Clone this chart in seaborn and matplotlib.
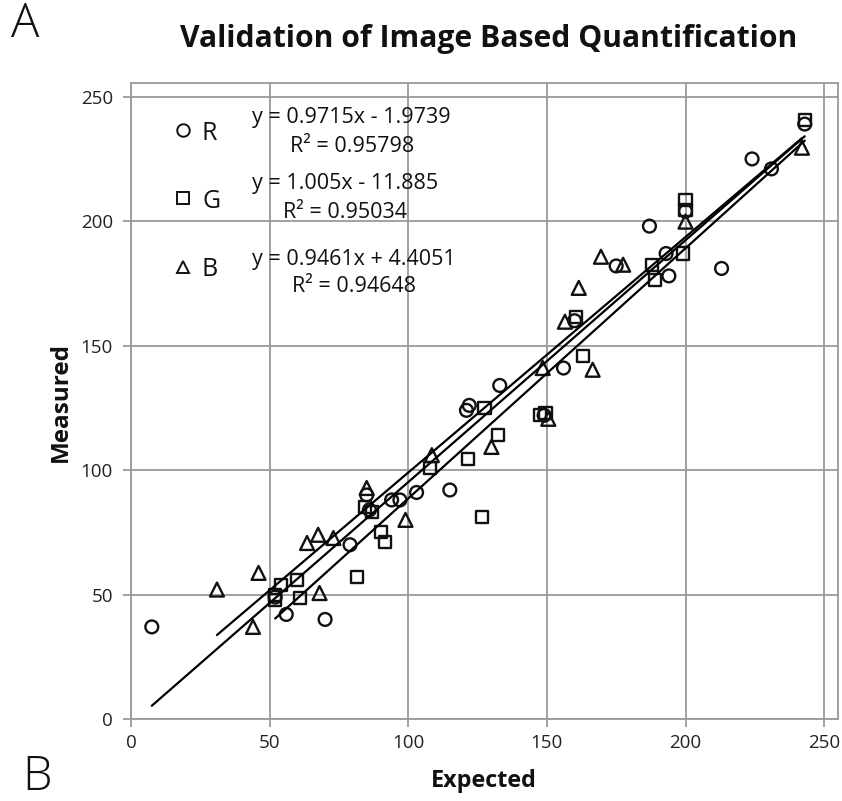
import numpy as np
import pandas as pd
import matplotlib
matplotlib.use("Agg")
import matplotlib.pyplot as plt
import seaborn as sns
from matplotlib.lines import Line2D

# ---- data ----
r_expected = [7.5, 52, 56, 70, 79, 85, 86, 94, 97, 103, 115, 121, 122, 133, 149, 156,
              160, 175, 187, 193, 194, 200, 213, 224, 231, 243]
r_measured = [37, 49, 42, 40, 70, 90, 84, 88, 88, 91, 92, 124, 126, 134, 122, 141,
              160, 182, 198, 187, 178, 204, 181, 225, 221, 239]

g_expected = [52, 52, 54, 60, 61, 81.5, 84.5, 87, 90, 91.5, 108, 121.5, 126.5, 127.5,
              132.5, 147.5, 149.5, 160.5, 163, 188, 189, 199, 200, 200, 243]
g_measured = [50, 48, 54, 56, 48.6, 57, 85, 83, 75, 71, 101, 104.5, 81, 125,
              114, 122, 123, 161.5, 146, 182.5, 176.5, 187, 204.5, 208.5, 240.5]

b_expected = [31, 44, 46, 63.5, 67.5, 68, 73, 85, 99, 108.5, 130, 148.5, 150.5, 156.5,
              161.5, 166.5, 169.5, 177.5, 200, 242]
b_measured = [52, 37, 58.7, 70.7, 74, 50.6, 72.7, 92.8, 80, 106, 109.3, 141, 120.6, 159.6,
              173.2, 140.3, 185.7, 182.5, 199.8, 229.5]

channels = ["R", "G", "B"]
slopes = [0.9715, 1.005, 0.9461]
intercepts = [-1.9739, -11.885, 4.4051]
r_squared = ["0.95798", "0.95034", "0.94648"]
eq_text = ["y = 0.9715x - 1.9739", "y = 1.005x - 11.885", "y = 0.9461x + 4.4051"]

ticks = [0, 50, 100, 150, 200, 250]

df = pd.concat([
    pd.DataFrame({"Expected": r_expected, "Measured": r_measured, "ch": "R"}),
    pd.DataFrame({"Expected": g_expected, "Measured": g_measured, "ch": "G"}),
    pd.DataFrame({"Expected": b_expected, "Measured": b_measured, "ch": "B"}),
], ignore_index=True)

# ---- style ----
sns.set_theme(style="white")
plt.rcParams["font.family"] = ["Open Sans", "DejaVu Sans"]

W, H = 842, 801
fig = plt.figure(figsize=(W / 100, H / 100), dpi=100)
ax = fig.add_axes([131 / W, 1 - 719 / H, (838 - 131) / W, (719 - 83) / H])

markers = {"R": "o", "G": "s", "B": "^"}
sizes = {"R": 85, "G": 75, "B": 100}
grid_c = "#9a9a9a"

for ch in channels:
    sub = df[df.ch == ch]
    sns.scatterplot(data=sub, x="Expected", y="Measured", marker=markers[ch],
                    s=sizes[ch], facecolor="none", edgecolor="#111111",
                    linewidth=1.7, ax=ax, zorder=3, legend=False)

for ch, m, b in zip(channels, slopes, intercepts):
    sub = df[df.ch == ch]
    xs = np.array([sub.Expected.min(), sub.Expected.max()])
    ax.plot(xs, m * xs + b, color="black", lw=1.6, zorder=4)

ax.set_xlim(0, 255)
ax.set_ylim(0, 255.5)
ax.set_xticks(ticks)
ax.set_yticks(ticks)
ax.grid(True, color=grid_c, lw=1.3)
ax.set_axisbelow(True)
for s in ax.spines.values():
    s.set_color(grid_c)
    s.set_linewidth(1.3)
ax.tick_params(axis="both", direction="out", length=6, width=1.3, color=grid_c,
               labelsize=13.5, labelcolor="#222222", left=True, bottom=True)
ax.tick_params(axis="y", pad=7)
ax.tick_params(axis="x", pad=5)
ax.set_xlabel("")
ax.set_ylabel("")

def fx(px):
    return px / W

def fy(py):
    return 1 - py / H

# title and labels
fig.text(fx(489), fy(47), "Validation of Image Based Quantification", ha="center",
         va="baseline", fontsize=21.7, fontweight="bold", color="#111111")
fig.text(fx(61), fy(402), "Measured", rotation=90, ha="center", va="center",
         fontsize=17.5, fontweight="bold", color="#111111")
fig.text(fx(484), fy(781), "Expected", ha="center", va="center",
         fontsize=16.8, fontweight="bold", color="#111111")
fig.text(fx(11), fy(25), "A", ha="left", va="center", fontsize=34,
         fontweight="light", color="#111111")
fig.text(fx(22), fy(778), "B", ha="left", va="center", fontsize=34,
         fontweight="light", color="#111111")

# legend with equations
leg_y = [130, 198, 267]
letter_y = [134, 202, 269]
eq1_y = [118, 184, 260]
eq2_x = [290, 283, 292]
eq2_y = [146, 212, 287]
for i, ch in enumerate(channels):
    fig.add_artist(Line2D([fx(183)], [fy(leg_y[i])], marker=markers[ch], markersize=9,
                          markerfacecolor="none", markeredgecolor="#111111",
                          markeredgewidth=1.4, linestyle="none",
                          transform=fig.transFigure))
    fig.text(fx(202), fy(letter_y[i]), ch, ha="left", va="center", fontsize=18,
             color="#111111")
    fig.text(fx(252), fy(eq1_y[i]), eq_text[i], ha="left", va="center", fontsize=15.5,
             color="#111111")
    fig.text(fx(eq2_x[i]), fy(eq2_y[i]), "R² = " + r_squared[i], ha="left", va="center",
             fontsize=15.5, color="#111111")

fig.savefig("out.png", dpi=100, facecolor="white")
